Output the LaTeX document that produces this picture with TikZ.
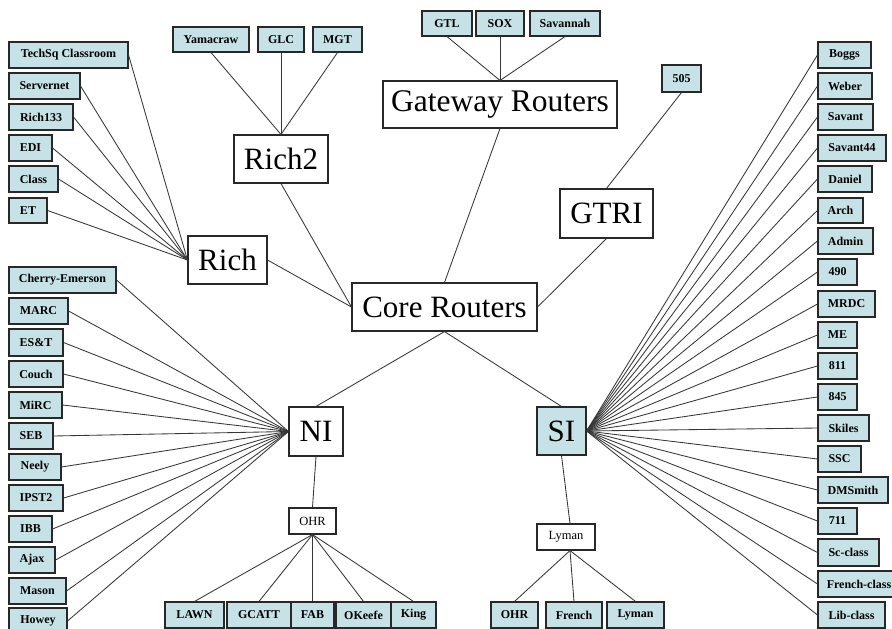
\documentclass[tikz,border=0pt]{standalone}
\usepackage{fontspec}
\setmainfont{Liberation Serif}
\definecolor{leaffill}{RGB}{198,226,230}
\definecolor{edgecol}{RGB}{55,55,55}
\definecolor{bordcol}{RGB}{40,40,40}
\newcommand{\mkbox}[7]{\node[#1, minimum width={#5-#3}, minimum height={#6-#4}] (#2) at ({(#3+#5)/2},{(#4+#6)/2}) {#7};}
\begin{document}
\begin{tikzpicture}[x=1pt,y=-1pt,
  leaf/.style={draw=bordcol, line width=1.1pt, fill=leaffill, inner sep=0pt, font=\fontsize{12}{13}\selectfont\bfseries},
  hub/.style={draw=bordcol, line width=1.1pt, fill=white, inner sep=0pt, font=\fontsize{31}{33}\selectfont},
  bluehub/.style={hub, fill=leaffill},
  sub/.style={draw=bordcol, line width=1.1pt, fill=white, inner sep=0pt, font=\fontsize{12.5}{13}\selectfont},
  link/.style={draw=edgecol, line width=0.85pt}]
\useasboundingbox (0,0) rectangle (892,629);
\clip (0,0) rectangle (892,629);
\fill[white] (0,0) rectangle (892,629);

% hubs
\mkbox{hub}{core}{352}{283}{537}{331}{Core Routers}
\mkbox{hub, font=\fontsize{31.5}{33}\selectfont}{gate}{383}{81}{617}{128}{Gateway Routers}
\mkbox{hub}{rich2}{234}{135}{328}{183}{Rich2}
\mkbox{hub}{rich}{188}{236}{267}{284}{Rich}
\mkbox{hub}{gtri}{560}{189}{653}{238}{GTRI}
\mkbox{hub}{ni}{289}{407}{343}{456}{NI}
\mkbox{bluehub}{si}{537}{407}{586}{455}{SI}
\mkbox{sub}{ohr}{289}{508}{336}{534}{OHR}
\mkbox{sub}{lyman}{537}{524}{595}{550}{Lyman}

% top leaves
\mkbox{leaf}{yam}{173}{27}{249}{52}{Yamacraw}
\mkbox{leaf}{glc}{258}{27}{304}{52}{GLC}
\mkbox{leaf}{mgt}{313}{27}{362}{52}{MGT}
\mkbox{leaf}{gtl}{422}{11}{472}{36}{GTL}
\mkbox{leaf}{sox}{476}{11}{524}{36}{SOX}
\mkbox{leaf}{sav}{530}{11}{600}{36}{Savannah}
\mkbox{leaf}{l505}{662}{65}{701}{92}{505}

% rich leaves
\mkbox{leaf}{techsq}{9}{42}{128}{68}{TechSq Classroom}
\mkbox{leaf}{servernet}{9}{73}{80}{99}{Servernet}
\mkbox{leaf}{richl}{9}{104}{73}{130}{Rich133}
\mkbox{leaf}{edi}{9}{135}{52}{161}{EDI}
\mkbox{leaf}{class}{9}{166}{58}{192}{Class}
\mkbox{leaf}{et}{9}{198}{47}{223}{ET}

% NI leaves
\mkbox{leaf}{cherry}{9}{267}{116}{293}{Cherry-Emerson}
\mkbox{leaf}{marc}{9}{298}{68}{324}{MARC}
\mkbox{leaf}{est}{9}{329}{63}{356}{ES\&T}
\mkbox{leaf}{couch}{9}{361}{63}{387}{Couch}
\mkbox{leaf}{mirc}{9}{392}{62}{418}{MiRC}
\mkbox{leaf}{seb}{9}{423}{53}{449}{SEB}
\mkbox{leaf}{neely}{9}{454}{61}{480}{Neely}
\mkbox{leaf}{ipst}{9}{485}{63}{511}{IPST2}
\mkbox{leaf}{ibb}{9}{516}{52}{542}{IBB}
\mkbox{leaf}{ajax}{9}{547}{55}{573}{Ajax}
\mkbox{leaf}{mason}{9}{578}{66}{604}{Mason}
\mkbox{leaf}{howey}{9}{608}{67}{634}{Howey}

% SI leaves
\mkbox{leaf}{boggs}{818}{42}{871}{68}{Boggs}
\mkbox{leaf}{weber}{818}{73}{872}{99}{Weber}
\mkbox{leaf}{savant}{818}{104}{873}{130}{Savant}
\mkbox{leaf}{savantf}{818}{135}{886}{161}{Savant44}
\mkbox{leaf}{daniel}{818}{166}{872}{192}{Daniel}
\mkbox{leaf}{arch}{818}{198}{863}{223}{Arch}
\mkbox{leaf}{admin}{818}{228}{873}{254}{Admin}
\mkbox{leaf}{fournine}{818}{259}{857}{285}{490}
\mkbox{leaf}{mrdc}{818}{291}{875}{317}{MRDC}
\mkbox{leaf}{me}{818}{322}{857}{348}{ME}
\mkbox{leaf}{eoo}{818}{353}{857}{379}{811}
\mkbox{leaf}{efs}{818}{384}{857}{410}{845}
\mkbox{leaf}{skiles}{818}{415}{869}{441}{Skiles}
\mkbox{leaf}{ssc}{818}{446}{861}{472}{SSC}
\mkbox{leaf}{dmsmith}{818}{477}{888}{503}{DMSmith}
\mkbox{leaf}{seo}{818}{508}{857}{534}{711}
\mkbox{leaf}{scclass}{818}{539}{879}{566}{Sc-class}
\mkbox{leaf}{frclass}{818}{571}{900}{597}{French-class}
\mkbox{leaf}{libclass}{818}{602}{885}{628}{Lib-class}

% bottom leaves
\mkbox{leaf}{lawn}{165}{602}{224}{628}{LAWN}
\mkbox{leaf}{gcatt}{227}{602}{291}{628}{GCATT}
\mkbox{leaf}{fab}{291}{602}{334}{628}{FAB}
\mkbox{leaf}{okeefe}{336}{602}{391}{628}{OKeefe}
\mkbox{leaf}{king}{391}{602}{436}{628}{King}
\mkbox{leaf}{ohrb}{491}{602}{538}{628}{OHR}
\mkbox{leaf}{french}{546}{602}{602}{628}{French}
\mkbox{leaf}{lymanb}{607}{602}{664}{628}{Lyman}

% connectors
\foreach \a in {yam,glc,mgt} \draw[link] (\a.south) -- (rich2.north);
\foreach \a in {gtl,sox,sav} \draw[link] (\a.south) -- (gate.north);
\foreach \a in {techsq,servernet,richl,edi,class,et} \draw[link] (\a.east) -- (rich.west);
\foreach \a in {cherry,marc,est,couch,mirc,seb,neely,ipst,ibb,ajax,mason,howey} \draw[link] (\a.east) -- (ni.west);
\foreach \a in {boggs,weber,savant,savantf,daniel,arch,admin,fournine,mrdc,me,eoo,efs,skiles,ssc,dmsmith,seo,scclass,frclass,libclass} \draw[link] (\a.west) -- (si.east);
\draw[link] (gate.south) -- (core.north);
\draw[link] (rich.east) -- (core.west);
\draw[link] (rich2.south) -- (core.west);
\draw[link] (l505.south) -- (gtri.north);
\draw[link] (gtri.south) -- (core.east);
\draw[link] (core.south) -- (ni.north);
\draw[link] (core.south) -- (si.north);
\draw[link] (ni.south) -- (ohr.north);
\draw[link] (si.south) -- ([xshift=4pt]lyman.north);
\foreach \a in {lawn,gcatt,fab,okeefe,king} \draw[link] (ohr.south) -- (\a.north);
\foreach \a in {ohrb,french,lymanb} \draw[link] ([xshift=4pt]lyman.south) -- (\a.north);
\end{tikzpicture}
\end{document}
